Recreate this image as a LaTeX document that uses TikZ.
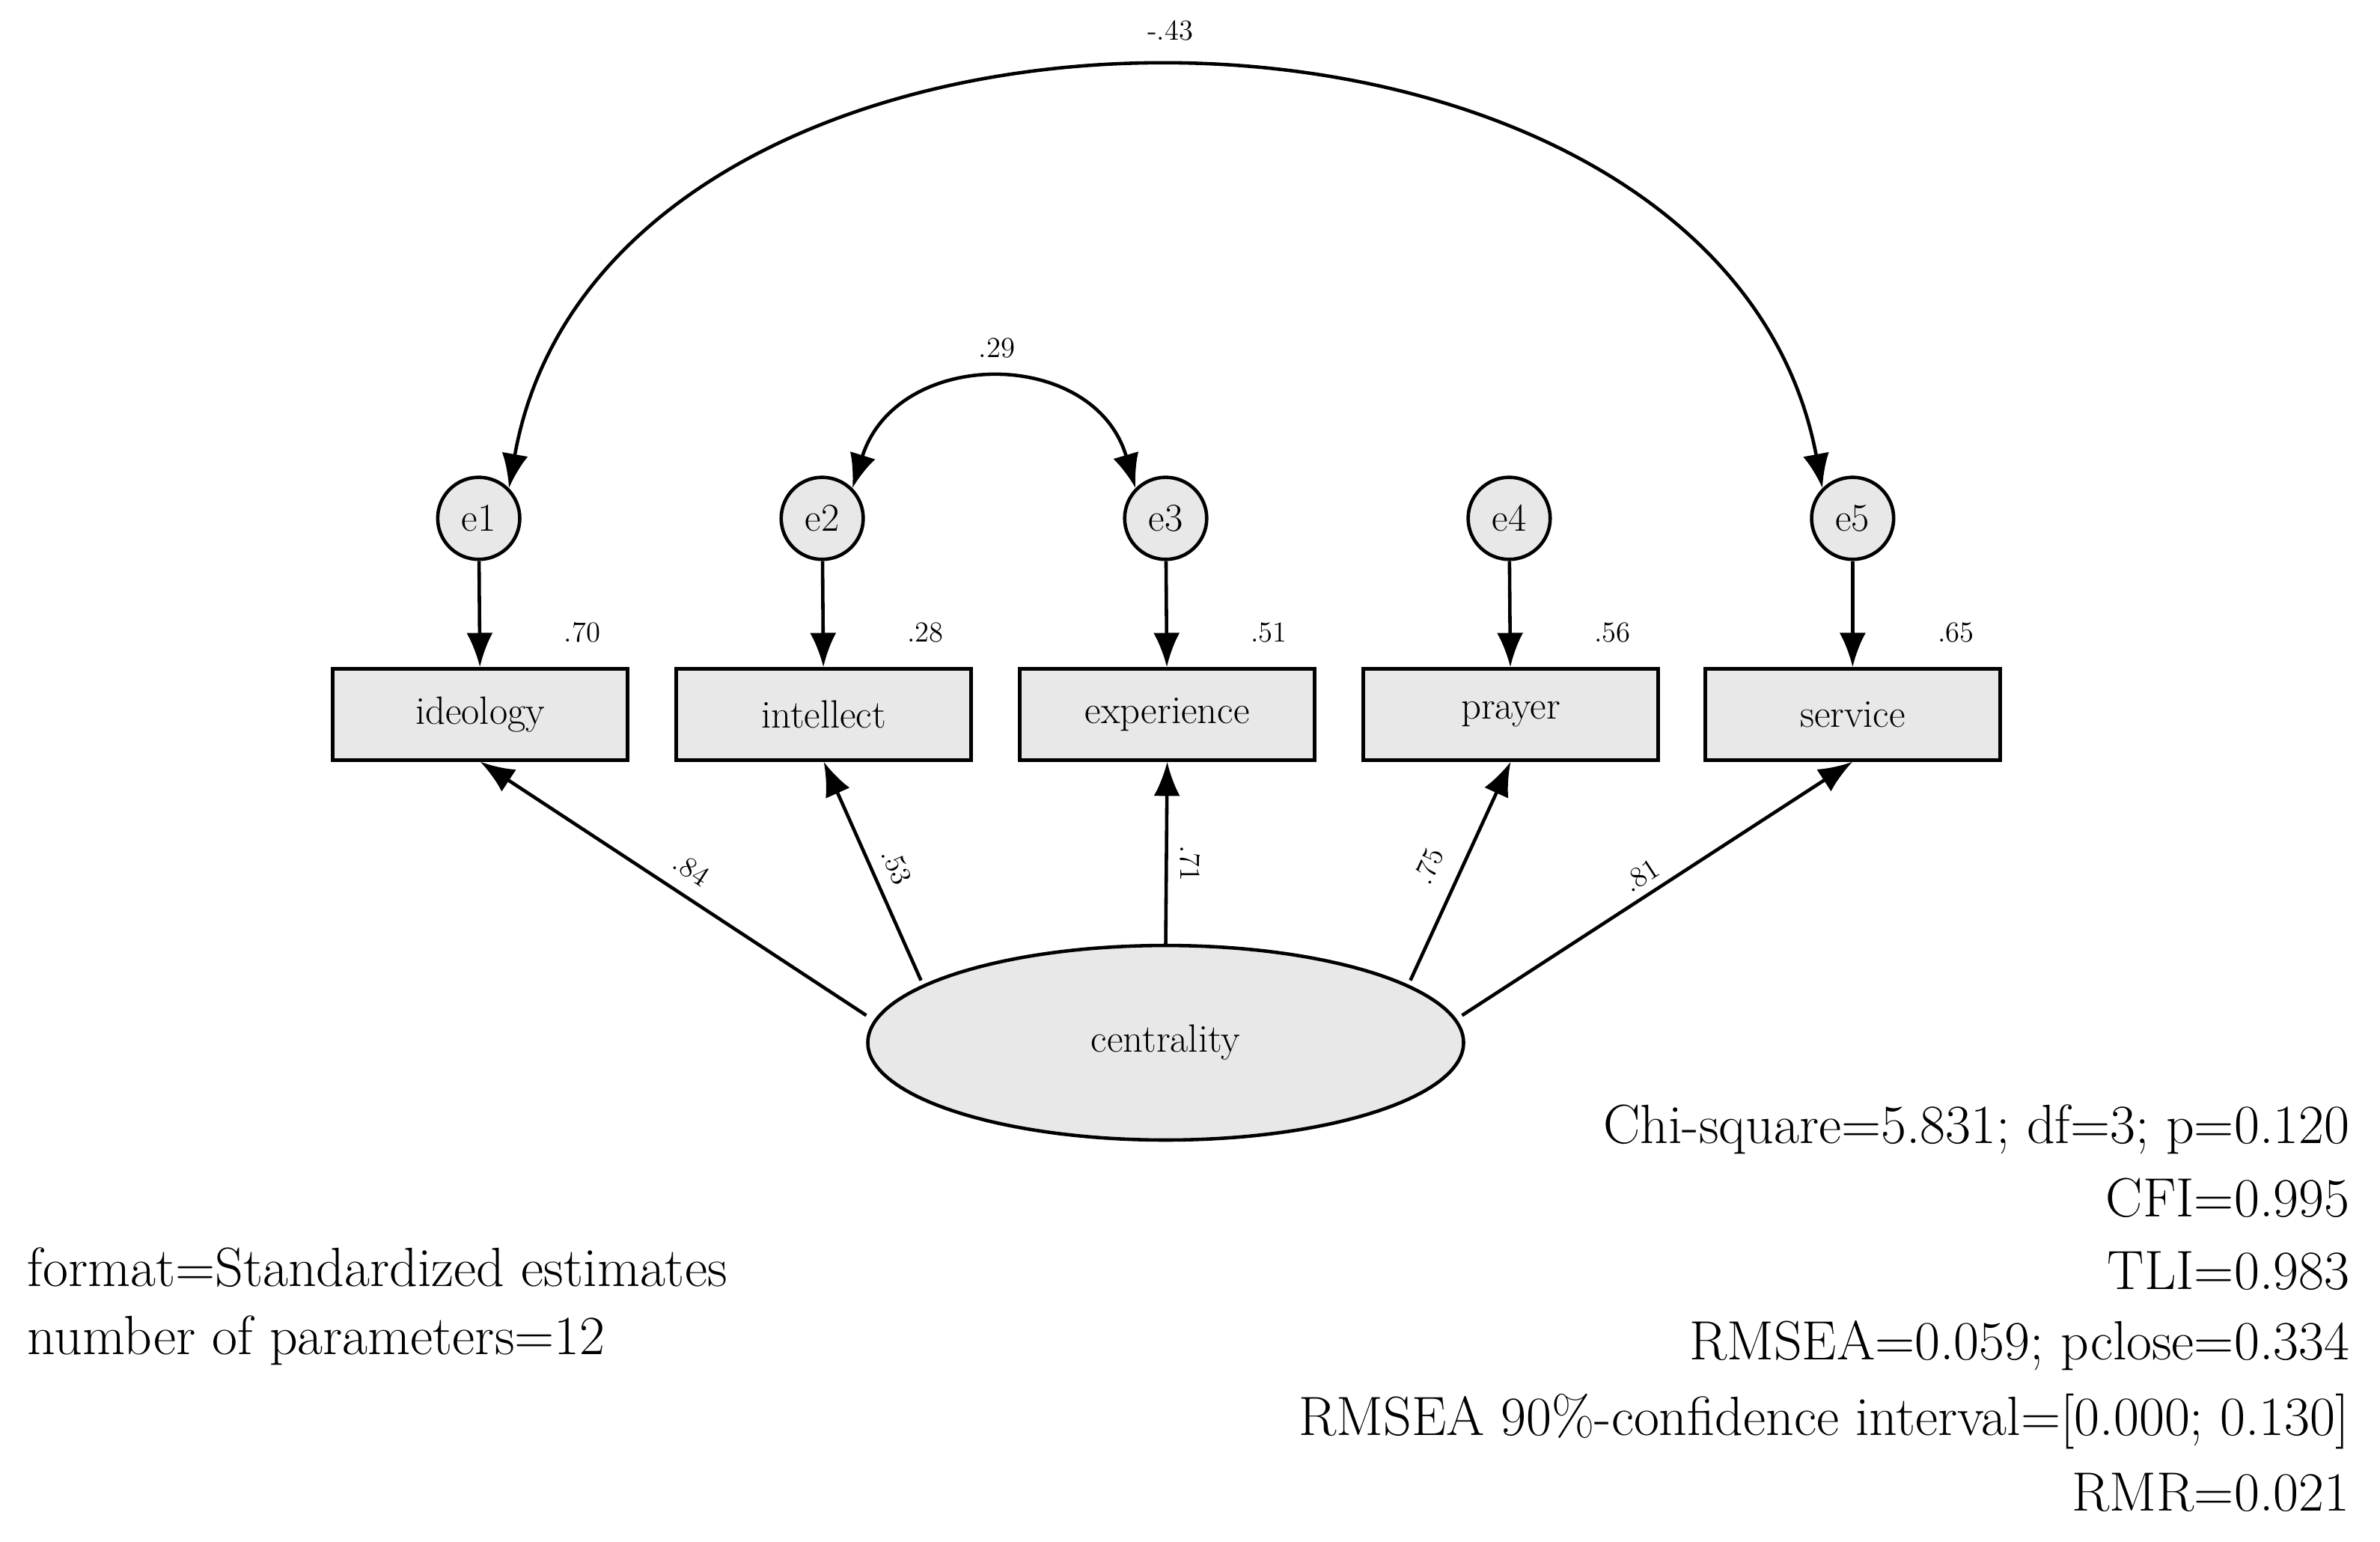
\documentclass[tikz,border=0pt]{standalone}
\usetikzlibrary{shapes.geometric,arrows.meta}
\begin{document}
\begin{tikzpicture}[x=0.0203cm,y=-0.0203cm,
  ln/.style={line width=1.3pt,-{Latex[length=13pt,width=10pt]}},
  box/.style={draw,line width=1.3pt,fill=gray!18,minimum width=194*0.0203cm,minimum height=60*0.0203cm,font=\fontsize{15}{18}\selectfont},
  err/.style={draw,circle,line width=1.3pt,fill=gray!18,minimum size=54*0.0203cm,inner sep=0pt,font=\fontsize{15}{18}\selectfont},
  sm/.style={font=\fontsize{11}{13}\selectfont},
  big/.style={font=\fontsize{21}{25}\selectfont}]
\useasboundingbox (0,0) rectangle (1566,1014);
\foreach \n/\x in {1/315,2/541,3/767,4/993,5/1219}{\node[err] (e\n) at (\x,341) {e\n};}
\node[box] (b1) at (316,470) {ideology};
\node[box] (b2) at (542,470) {intellect};
\node[box] (b3) at (768,470) {experience};
\node[box] (b4) at (994,470) {prayer};
\node[box] (b5) at (1219,470) {service};
\foreach \n in {1,...,5}{\draw[ln] (e\n) -- (b\n);}
\node[draw,ellipse,line width=1.3pt,fill=gray!18,minimum width=392*0.0203cm,minimum height=128*0.0203cm,font=\fontsize{15}{18}\selectfont] (c) at (767,686) {centrality};
\coordinate (s1) at (570,668);
\coordinate (s2) at (606,645);
\coordinate (s4) at (928,645);
\coordinate (s5) at (962,668);
\draw[ln] (s1) -- (b1.south);
\draw[ln] (s2) -- (b2.south);
\draw[ln] (c.north) -- (b3.south);
\draw[ln] (s4) -- (b4.south);
\draw[ln] (s5) -- (b5.south);
\node[sm] (l1) at (383,416) {.70};
\node[sm] (l2) at (609,416) {.28};
\node[sm] (l3) at (835,416) {.51};
\node[sm] (l4) at (1061,416) {.56};
\node[sm] (l5) at (1287,416) {.65};
\node[sm,rotate=-33] (p1) at (455,572) {.84};
\node[sm,rotate=-66] (p2) at (590,570) {.53};
\node[sm,rotate=-90] (p3) at (783,568) {.71};
\node[sm,rotate=66] (p4) at (940,570) {.75};
\node[sm,rotate=33] (p5) at (1080,576) {.81};
\draw[line width=1.3pt,{Latex[length=13pt,width=10pt]}-{Latex[length=13pt,width=10pt]}] (e1.north east) .. controls (400,-45) and (1130,-45) .. (e5.north west);
\node[sm] (r1) at (770,20) {-.43};
\draw[line width=1.3pt,{Latex[length=13pt,width=10pt]}-{Latex[length=13pt,width=10pt]}] (e2.north east) .. controls (590,228) and (720,228) .. (e3.north west);
\node[sm] (r2) at (656,229) {.29};
\node[big,anchor=west] (f1) at (12,834) {format=Standardized estimates};
\node[big,anchor=west] (f2) at (12,882) {number of parameters=12};
\foreach \t/\y in {{Chi-square=5.831; df=3; p=0.120}/743,{CFI=0.995}/788,{TLI=0.983}/836,{RMSEA=0.059; pclose=0.334}/885,{RMSEA 90\%-confidence interval=[0.000; 0.130]}/935,{RMR=0.021}/982}{\node[big,anchor=east] at (1552,\y) {\t};}
\end{tikzpicture}
\end{document}
